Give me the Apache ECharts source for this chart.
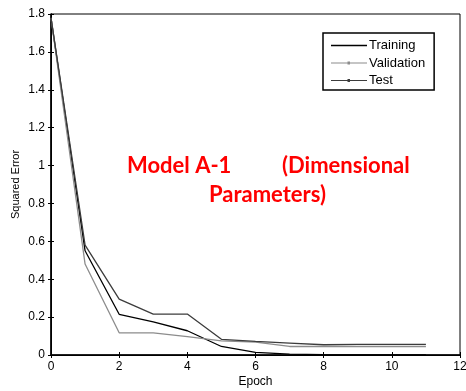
<!DOCTYPE html>
<html>
<head>
<meta charset="utf-8">
<script src="https://cdn.jsdelivr.net/npm/echarts@6/dist/echarts.min.js"></script>
<style>
  html, body { margin: 0; padding: 0; background: #fff; }
  #chart { width: 466px; height: 391px; }
</style>
</head>
<body>
<div id="chart"></div>
<script>
// values
const epochs = [0, 1, 2, 3, 4, 5, 6, 7, 8, 9, 10, 11];
const training = [1.78, 0.55, 0.215, 0.175, 0.128, 0.045, 0.014, 0.005, 0.002, 0.001, 0.0, 0.0];
const validation = [1.78, 0.48, 0.117, 0.117, 0.097, 0.075, 0.068, 0.045, 0.045, 0.045, 0.045, 0.045];
const test = [1.78, 0.58, 0.295, 0.216, 0.216, 0.083, 0.072, 0.063, 0.054, 0.056, 0.056, 0.056];
const yTicks = [0, 0.2, 0.4, 0.6, 0.8, 1, 1.2, 1.4, 1.6, 1.8];

const chart = echarts.init(document.getElementById("chart"), null, { renderer: "canvas" });

const axisFont = { color: "#000", fontFamily: "Liberation Sans", fontSize: 12 };
const titleFont = "bold 22px Lato";

const pairs = (ys) => epochs.map((x, i) => [x, ys[i]]);

const option = {
  backgroundColor: "#fff",
  animation: false,
  grid: {
    left: 51, right: 6, top: 14, bottom: 36,
    outerBoundsMode: "none",
    show: true, borderColor: "#000", borderWidth: 1,
  },
  xAxis: [
    {
      type: "value", min: 0, max: 12, interval: 2,
      name: "Epoch", nameLocation: "middle", nameGap: 21,
      nameMoveOverlap: false,
      nameTextStyle: axisFont,
      axisLine: { show: true, lineStyle: { color: "#000", width: 1.5 } },
      axisTick: { show: true, inside: true, length: 3, lineStyle: { color: "#000" } },
      axisLabel: { ...axisFont, margin: 6 },
      splitLine: { show: false },
    },
    {
      type: "value", min: 0, max: 12, interval: 2, position: "top",
      axisLine: { show: true, lineStyle: { color: "#000" } },
      axisTick: { show: true, inside: true, length: 3, lineStyle: { color: "#000" } },
      axisLabel: { show: false },
      splitLine: { show: false },
    },
  ],
  yAxis: [
    {
      type: "value", min: 0, max: 1.8, interval: 0.2,
      name: "Squared Error", nameLocation: "middle", nameGap: 30,
      nameMoveOverlap: false,
      nameTextStyle: { ...axisFont, fontSize: 11 },
      axisLine: { show: true, lineStyle: { color: "#000", width: 1.5 } },
      axisTick: { show: true, inside: true, length: 3, lineStyle: { color: "#000" } },
      axisLabel: {
        ...axisFont, margin: 6,
        formatter: (v) => (yTicks.some((t) => Math.abs(t - v) < 1e-9) ? String(+v.toFixed(1)) : ""),
      },
      splitLine: { show: false },
    },
    {
      type: "value", min: 0, max: 1.8, interval: 0.2, position: "right",
      axisLine: { show: true, lineStyle: { color: "#000" } },
      axisTick: { show: true, inside: true, length: 3, lineStyle: { color: "#000" } },
      axisLabel: { show: false },
      splitLine: { show: false },
    },
  ],
  legend: {
    left: 323, top: 33,
    orient: "vertical",
    backgroundColor: "#fff",
    borderColor: "#000", borderWidth: 1.5, borderRadius: 0,
    padding: [6, 9, 3, 8],
    itemGap: 4.5,
    itemWidth: 36, itemHeight: 13,
    textStyle: { ...axisFont, fontSize: 13, padding: [0, 0, 0, -3] },
    data: [
      { name: "Training", icon: "path://M0,6L36,6L36,7.3L0,7.3Z" },
      { name: "Validation", icon: "path://M0,6L16.5,6L16.5,5L19,5L19,6L36,6L36,7L19,7L19,8L16.5,8L16.5,7L0,7Z" },
      { name: "Test", icon: "path://M0,6L16.5,6L16.5,5L19,5L19,6L36,6L36,7L19,7L19,8L16.5,8L16.5,7L0,7Z" },
    ],
  },
  graphic: [
    {
      type: "text", x: 127, y: 166,
      style: { text: "Model A-1", fill: "#ff0000", font: titleFont, verticalAlign: "middle" },
    },
    {
      type: "text", x: 282, y: 166,
      style: { text: "(Dimensional", fill: "#ff0000", font: titleFont, verticalAlign: "middle" },
    },
    {
      type: "text", x: 209, y: 195,
      style: { text: "Parameters)", fill: "#ff0000", font: titleFont, verticalAlign: "middle" },
    },
  ],
  series: [
    {
      name: "Training", type: "line", data: pairs(training),
      symbol: "none", color: "#000",
      lineStyle: { color: "#000", width: 1.3 },
    },
    {
      name: "Validation", type: "line", data: pairs(validation),
      symbol: "none", color: "#8c8c8c",
      lineStyle: { color: "#8c8c8c", width: 1.3 },
    },
    {
      name: "Test", type: "line", data: pairs(test),
      symbol: "none", color: "#3c3c3c",
      lineStyle: { color: "#3c3c3c", width: 1.3 },
    },
  ],
};

chart.setOption(option);
window.addEventListener("resize", () => chart.resize());
</script>
</body>
</html>
